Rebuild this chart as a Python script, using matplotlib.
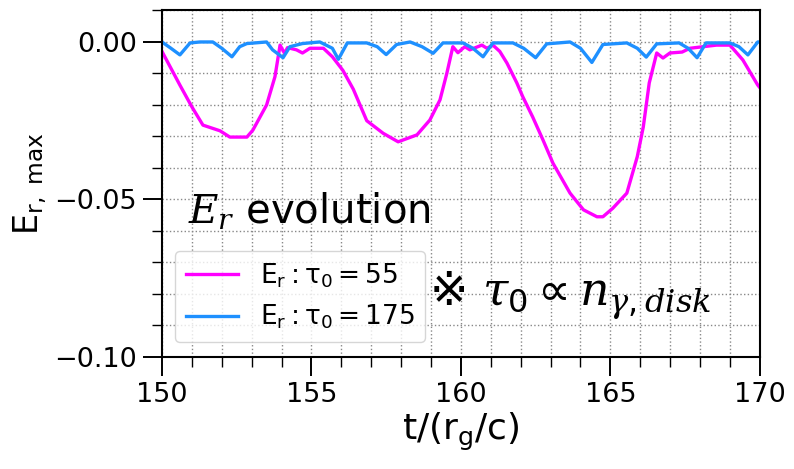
import matplotlib
matplotlib.use("Agg")
import matplotlib.pyplot as plt
from matplotlib.ticker import MultipleLocator

plt.rcParams['mathtext.fontset'] = 'custom'
plt.rcParams['mathtext.rm'] = 'DejaVu Sans'
plt.rcParams['mathtext.it'] = 'DejaVu Serif:italic'
plt.rcParams['mathtext.bf'] = 'DejaVu Sans:bold'
plt.rcParams['font.family'] = ['DejaVu Sans', 'Noto Sans CJK JP']

# data
t55 = [150.0, 150.6, 151.0, 151.37, 151.94, 152.27, 152.84, 153.04, 153.5, 153.78, 153.95,
       154.1, 154.2, 154.5, 154.7, 154.95, 155.4, 155.7, 156.05, 156.4, 156.85, 157.4,
       157.9, 158.53, 158.96, 159.3, 159.53, 159.73, 159.9, 160.13, 160.3, 160.7, 160.87,
       161.07, 161.3, 161.54, 161.87, 162.07, 162.4, 162.74, 163.08, 163.65, 164.1, 164.55,
       164.75, 165.08, 165.55, 165.9, 166.1, 166.3, 166.55, 166.76, 166.99, 167.4, 167.66,
       168.1, 168.55, 169.0, 169.43, 169.93, 170.0]
E55 = [-0.003, -0.0137, -0.0206, -0.0264, -0.0282, -0.0302, -0.0302, -0.028, -0.0200, -0.011, -0.001,
       -0.0036, -0.0018, -0.0025, -0.0035, -0.002, -0.002, -0.0047, -0.009, -0.015, -0.025, -0.029,
       -0.0317, -0.0295, -0.0248, -0.0184, -0.0099, -0.0015, -0.0034, -0.0015, -0.0025, -0.001, -0.002,
       -0.001, -0.003, -0.0067, -0.013, -0.0174, -0.0238, -0.031, -0.0385, -0.048, -0.0533, -0.0555,
       -0.0555, -0.0528, -0.048, -0.0364, -0.027, -0.013, -0.0035, -0.0051, -0.0035, -0.0032, -0.002,
       -0.0015, -0.001, -0.001, -0.0057, -0.0137, -0.0145]

t175 = [150.0, 150.3, 150.6, 150.94, 151.27, 151.7, 152.0, 152.34, 152.6, 152.84, 153.5, 153.7,
        154.05, 154.28, 154.7, 155.28, 155.7, 155.9, 156.2, 156.85, 157.2, 157.5, 157.85, 158.3,
        158.7, 159.07, 159.4, 160.07, 160.4, 160.74, 161.07, 161.74, 162.1, 162.5, 162.87, 163.65,
        164.0, 164.38, 164.75, 165.55, 165.9, 166.2, 166.55, 167.3, 167.6, 167.9, 168.2, 169.0,
        169.3, 169.6, 169.93, 170.0]
E175 = [0.0, -0.002, -0.0041, -0.0003, 0.0, 0.0, -0.002, -0.0047, -0.0015, -0.0005, 0.0, -0.0025,
        -0.005, -0.0015, -0.0005, 0.0, -0.002, -0.0055, -0.0003, -0.0003, -0.0015, -0.004, -0.0008, 0.0,
        -0.0015, -0.0036, -0.0003, -0.0003, -0.002, -0.0047, -0.0003, -0.0003, -0.002, -0.005, -0.0006, 0.0,
        -0.002, -0.0065, -0.0008, -0.0003, -0.002, -0.0048, -0.0006, -0.0003, -0.002, -0.005, -0.0003,
        -0.0003, -0.0015, -0.0041, 0.0, 0.0]

labels = [r'$\mathrm{E_r : \tau_0 = 55}$', r'$\mathrm{E_r : \tau_0 = 175}$']

fig = plt.figure(figsize=(7.94, 4.69), dpi=100)
ax = fig.add_axes([0.204, 0.239, 0.753, 0.740])

ax.plot(t55, E55, color='#ff00ff', lw=2.4, label=labels[0])
ax.plot(t175, E175, color='#1e90ff', lw=2.4, label=labels[1])

ax.set_xlim(150, 170)
ax.set_ylim(-0.10, 0.0102)
ax.xaxis.set_major_locator(MultipleLocator(5))
ax.xaxis.set_minor_locator(MultipleLocator(1))
ax.yaxis.set_major_locator(MultipleLocator(0.05))
ax.yaxis.set_minor_locator(MultipleLocator(0.01))
ax.tick_params(which='major', length=14, width=1.4, labelsize=19.5, pad=4)
ax.tick_params(which='minor', length=7, width=1.0)
ax.grid(True, which='both', linestyle=':', color='#888888', lw=1.0)
for s in ax.spines.values():
    s.set_linewidth(1.5)

ax.set_xlabel(r'$\mathrm{t/(r_g/c)}$', fontsize=26, labelpad=2)
ax.set_ylabel(r'$\mathrm{E_{r,\ max}}$', fontsize=24, labelpad=4)

leg = ax.legend(loc='lower left', bbox_to_anchor=(0.022, 0.043), borderaxespad=0,
                fontsize=19, handlelength=2.0, framealpha=0.8)

ax.text(0.043, 0.42, r'$E_r$ evolution', transform=ax.transAxes, fontsize=29,
        va='center', ha='left')
ax.text(0.447, 0.175, r'※ $\tau_0 \propto n_{\gamma,disk}$', transform=ax.transAxes,
        fontsize=33, va='center', ha='left')

fig.savefig('out.png', dpi=100)
